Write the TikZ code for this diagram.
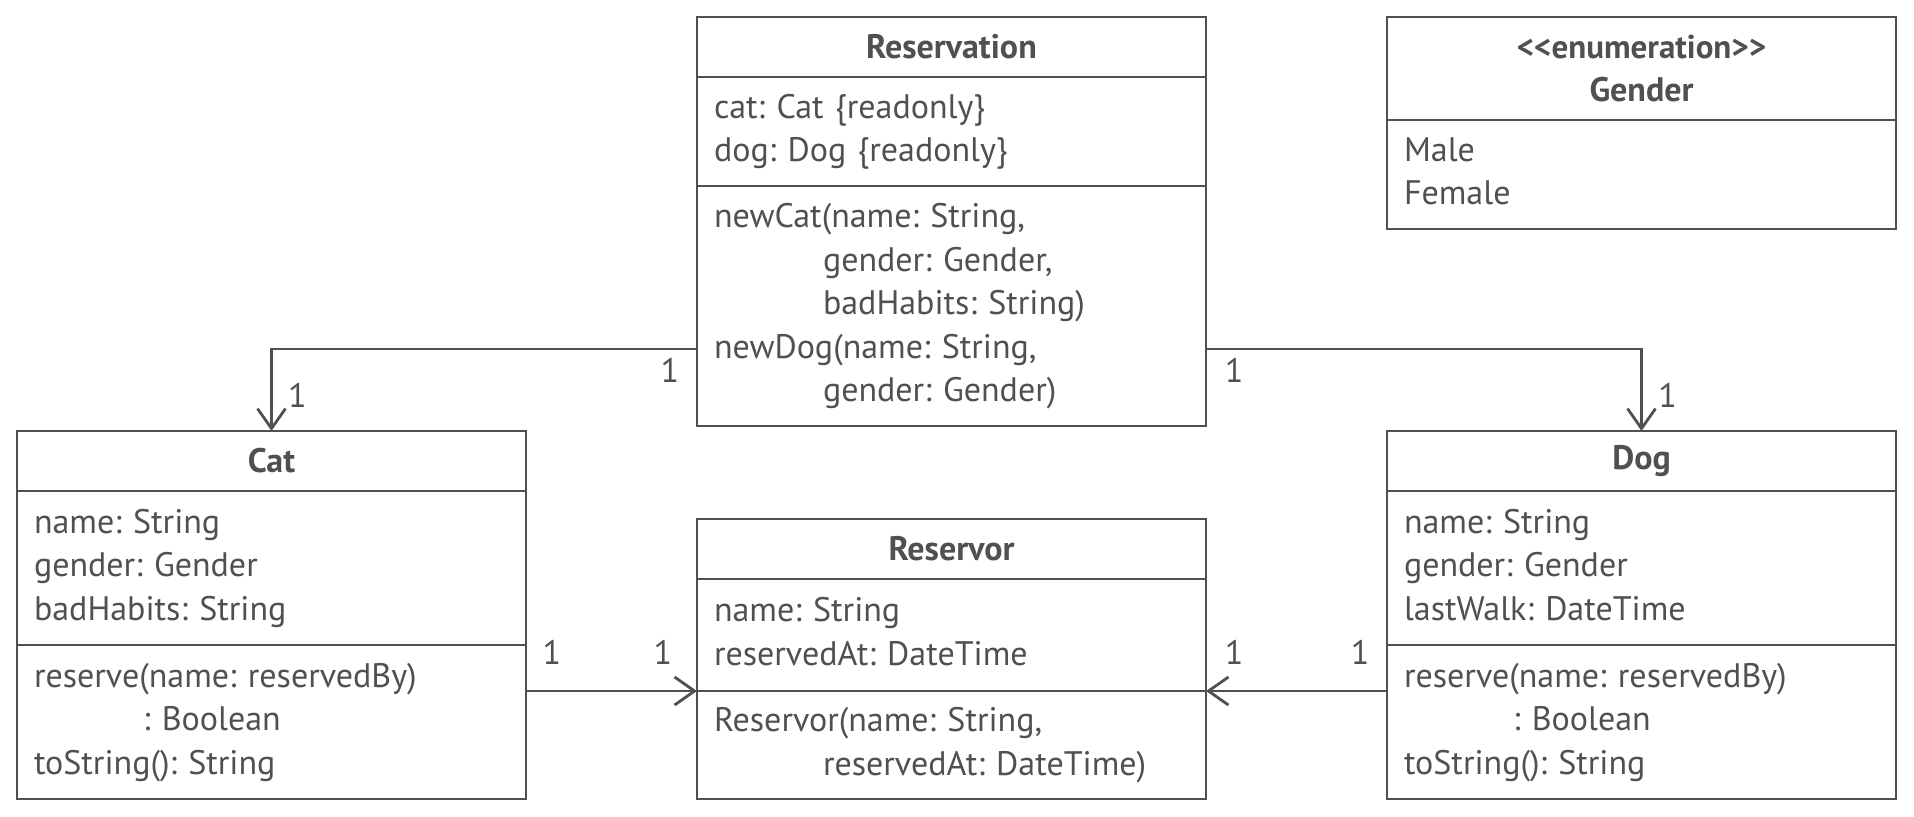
\documentclass[tikz,border=0pt]{standalone}
\usepackage{fontspec}
\setmainfont{PT Sans}
\usetikzlibrary{arrows.meta,positioning}
\definecolor{umlgray}{RGB}{80,80,80}
\tikzset{
  titulo/.style={
    draw=umlgray,
    line width=1.4pt,
    text=umlgray,
    align=center,
    text width=237.5pt,
    inner xsep=8.5pt,
    inner ysep=0pt,
    outer sep=0pt,
    minimum height=30pt,
    font=\fontsize{17}{21.75}\selectfont\bfseries\frenchspacing
  },
  seccion/.style={
    draw=umlgray,
    line width=1.4pt,
    text=umlgray,
    align=left,
    text width=237.5pt,
    inner xsep=8.5pt,
    inner ysep=0pt,
    outer sep=0pt,
    font=\fontsize{17}{21.75}\selectfont\frenchspacing,
    execute at begin node=\strut,
    execute at end node=\strut
  },
  mult/.style={
    text=umlgray,
    inner sep=0pt,
    font=\fontsize{17}{21.75}\selectfont
  },
  arrow/.style={
    -{Straight Barb[length=10pt,width=14pt]},
    line width=1.4pt,
    umlgray
  }
}
\newcommand{\sangria}{\hspace*{54.5pt}}

\begin{document}
\begin{tikzpicture}[x=0.5pt,y=-0.5pt,node distance=0pt]
\useasboundingbox[fill=white] (0,0) rectangle (1914,816);
% Reservation
\node[titulo, anchor=north west] (r) at (697,17) {Reservation};
\node[seccion, below=of r, minimum height=54.5pt] (r1) {cat: Cat \{readonly\}\\dog: Dog \{readonly\}};
\node[seccion, below=of r1, minimum height=120pt] (r2) {newCat(name: String,\\\sangria gender: Gender,\\\sangria badHabits: String)\\newDog(name: String,\\\sangria gender: Gender)};
% Gender
\node[titulo, anchor=north west, minimum height=51.5pt] (g) at (1387,17) {{\fontsize{16.5}{21.75}\selectfont <\kern0pt<enumeration>\kern0pt>}\\Gender};
\node[seccion, below=of g, minimum height=54.5pt] (g1) {Male\\Female};
% Cat
\node[titulo, anchor=north west] (c) at (17,431) {Cat};
\node[seccion, below=of c, minimum height=77pt] (c1) {name: String\\gender: Gender\\badHabits: String};
\node[seccion, below=of c1, minimum height=77pt] (c2) {reserve(name: reservedBy)\\\sangria: Boolean\\toString(): String};
% Reservor
\node[titulo, anchor=north west] (v) at (697,519) {Reservor};
\node[seccion, below=of v, minimum height=56pt] (v1) {name: String\\reservedAt: DateTime};
\node[seccion, below=of v1, minimum height=54pt] (v2) {Reservor(name: String,\\\sangria reservedAt: DateTime)};
% Dog
\node[titulo, anchor=north west] (d) at (1387,431) {Dog};
\node[seccion, below=of d, minimum height=77pt] (d1) {name: String\\gender: Gender\\lastWalk: DateTime};
\node[seccion, below=of d1, minimum height=77pt] (d2) {reserve(name: reservedBy)\\\sangria: Boolean\\toString(): String};

\draw[arrow] ([yshift=-21.5pt]r2.west) -| (c.north)
  node[mult, pos=0, xshift=-13.5pt, yshift=-10.5pt] {1}
  node[mult, pos=1, xshift=13pt, yshift=17.75pt] {1};
\draw[arrow] ([yshift=-21.5pt]r2.east) -| (d.north)
  node[mult, pos=0, xshift=14pt, yshift=-10.5pt] {1}
  node[mult, pos=1, xshift=13pt, yshift=17.75pt] {1};
\draw[arrow] (c2.east |- v2.north) -- (v2.north west)
  node[mult, pos=0, xshift=13pt, yshift=19.5pt] {1}
  node[mult, pos=1, xshift=-17pt, yshift=19.5pt] {1};
\draw[arrow] (d2.west |- v2.north) -- (v2.north east)
  node[mult, pos=0, xshift=-13.5pt, yshift=19.5pt] {1}
  node[mult, pos=1, xshift=14pt, yshift=19.5pt] {1};
\end{tikzpicture}
\end{document}
